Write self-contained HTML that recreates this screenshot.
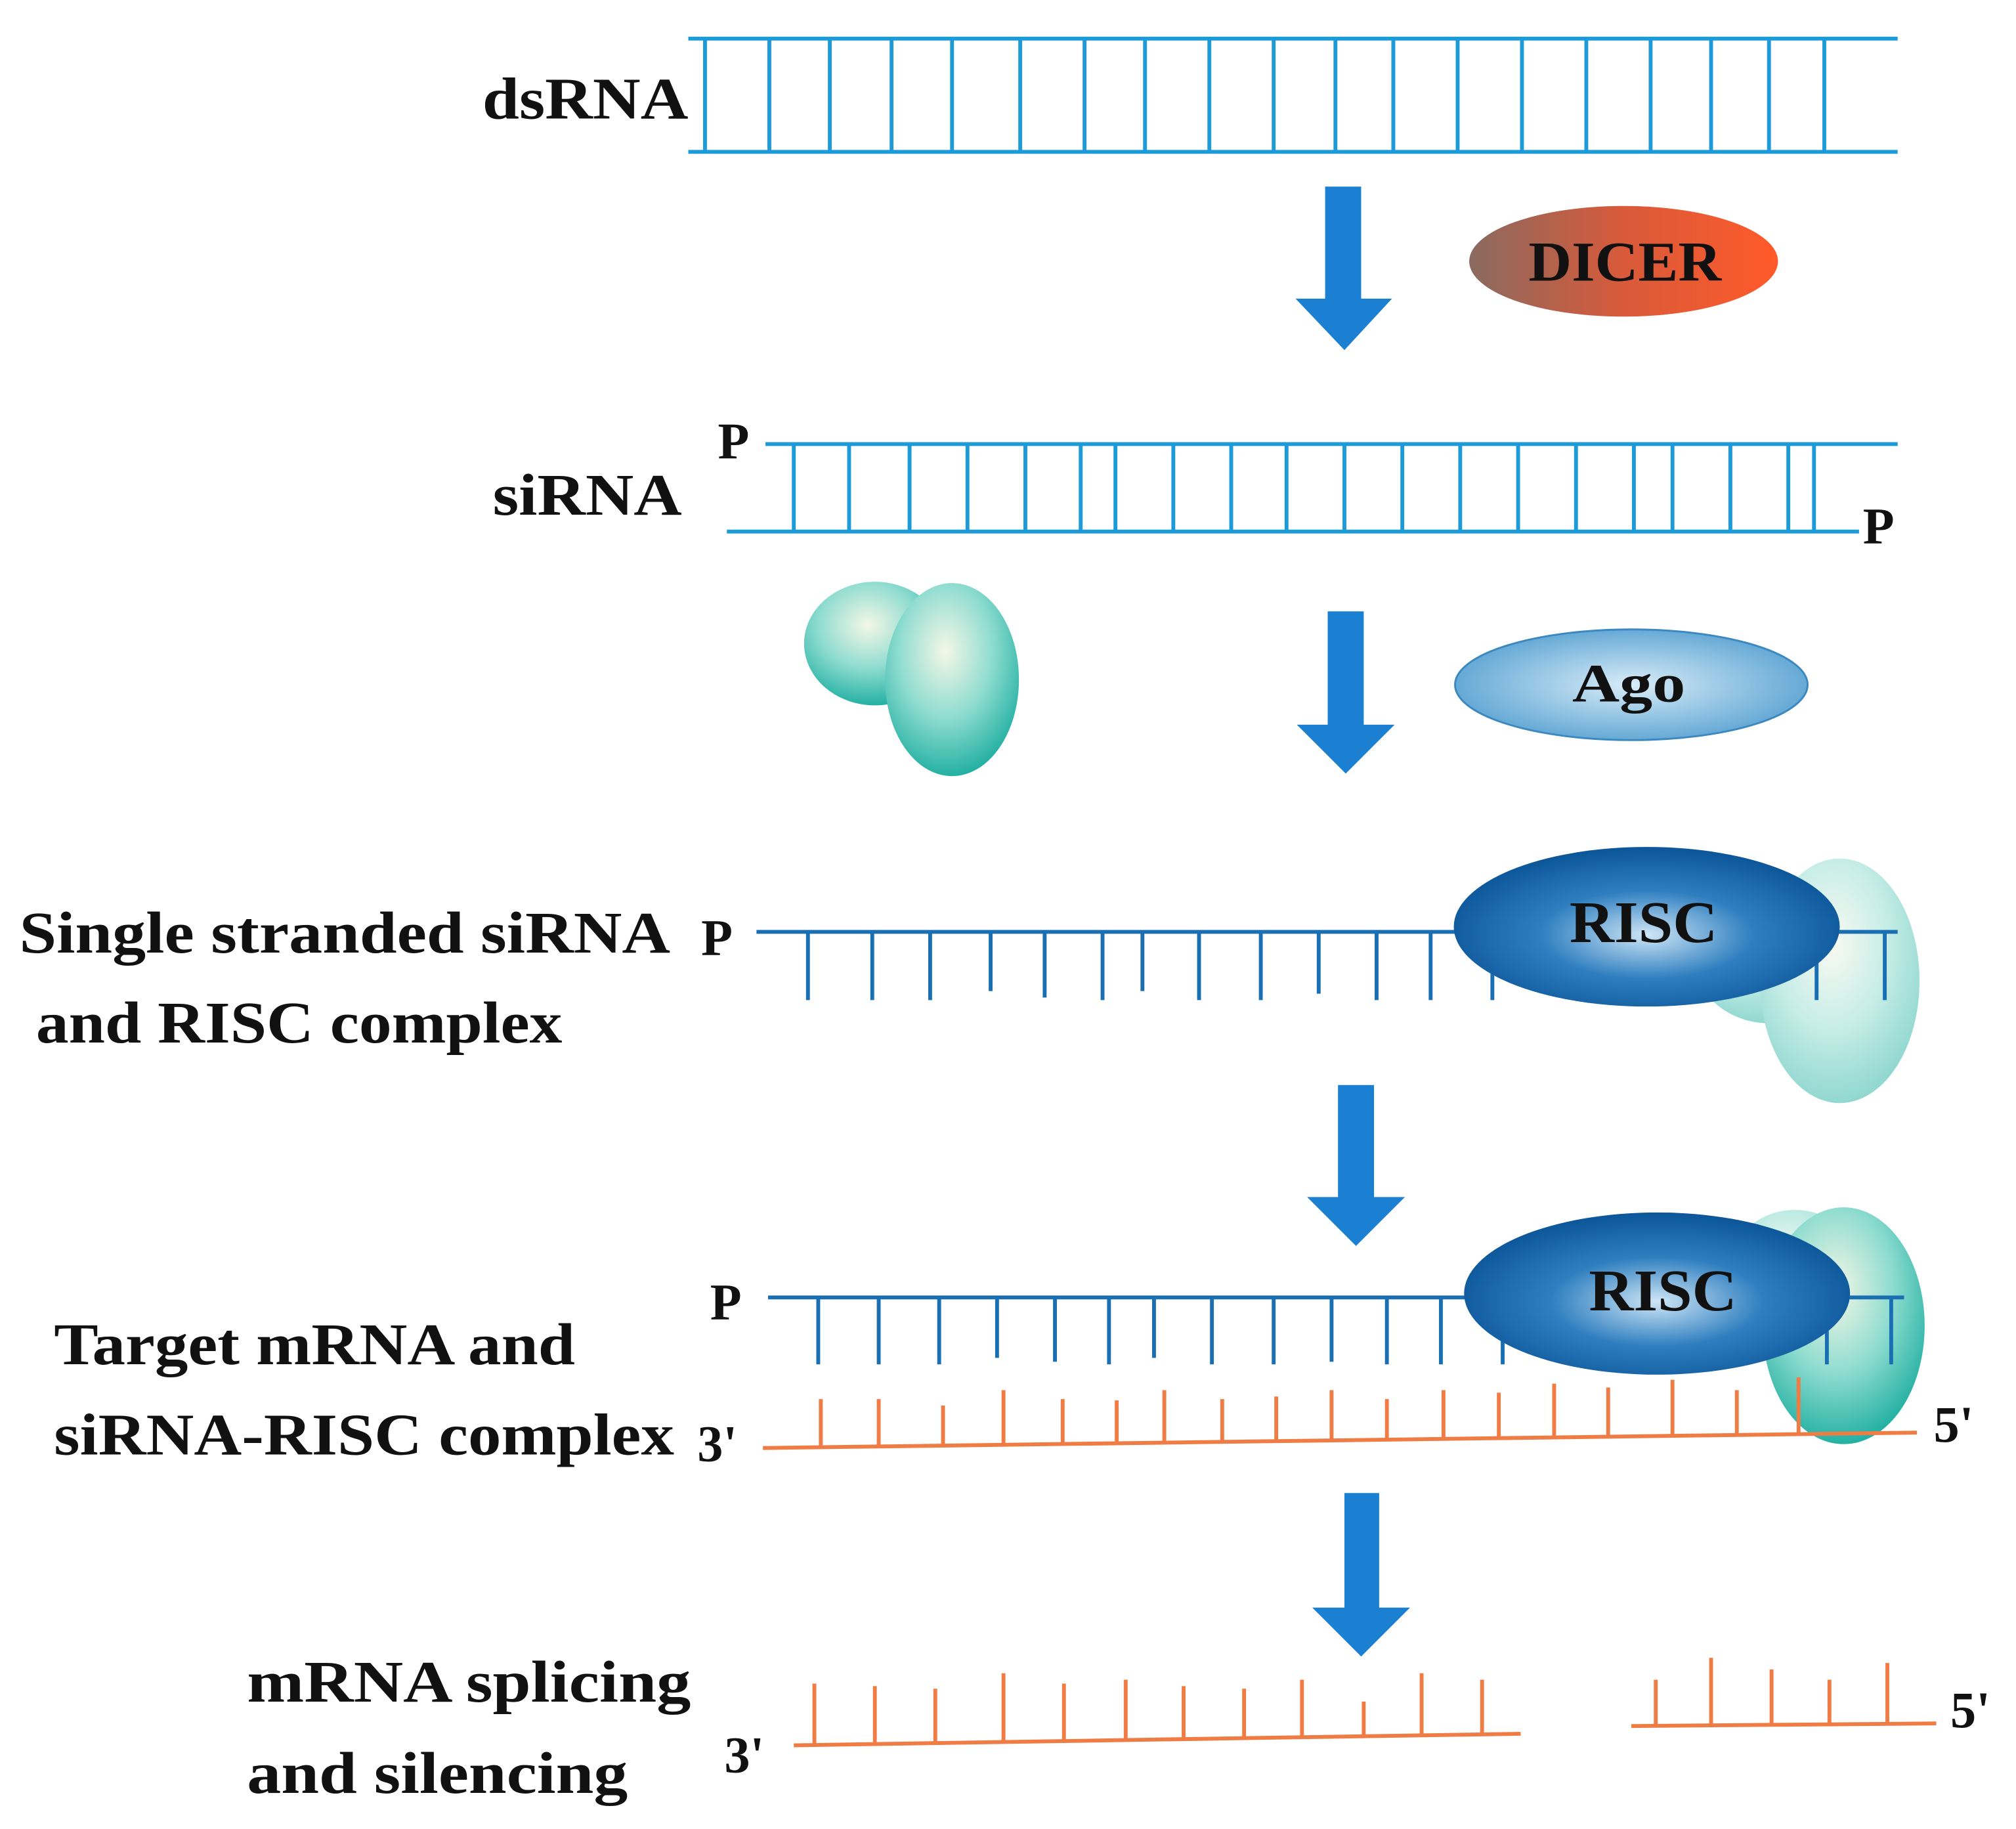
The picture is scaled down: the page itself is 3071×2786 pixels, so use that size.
<!DOCTYPE html>
<html><head><meta charset="utf-8"><style>
html,body{margin:0;padding:0;background:#fff;}
svg{display:block;}
text{font-family:"Liberation Serif",serif;font-weight:bold;fill:#111;}
</style></head><body>
<svg width="3071" height="2786" viewBox="0 0 1567 1421" preserveAspectRatio="none" xmlns="http://www.w3.org/2000/svg">
<defs>
<linearGradient id="dicer" x1="0" x2="1" y1="0" y2="0"><stop offset="0" stop-color="#8a6a60"/><stop offset="0.5" stop-color="#d85a3a"/><stop offset="1" stop-color="#ff5a2a"/></linearGradient>
<radialGradient id="ago" cx="0.5" cy="0.5" r="0.6"><stop offset="0" stop-color="#d8ecf8"/><stop offset="1" stop-color="#4f9ccf"/></radialGradient>
<radialGradient id="risc" cx="0.5" cy="0.55" r="0.55"><stop offset="0" stop-color="#cfe6f6"/><stop offset="0.5" stop-color="#2f7fc0"/><stop offset="1" stop-color="#0b5598"/></radialGradient>
<radialGradient id="teal" cx="0.45" cy="0.35" r="0.7"><stop offset="0" stop-color="#f4f7e6"/><stop offset="0.5" stop-color="#8fdcd0"/><stop offset="1" stop-color="#13aa9c"/></radialGradient>
</defs>

<!-- dsRNA -->
<text x="375" y="92" font-size="46" textLength="160" lengthAdjust="spacingAndGlyphs">dsRNA</text>
<g stroke="#1d9ad8" stroke-width="3" fill="none">
<line x1="535" y1="30" x2="1475" y2="30"/><line x1="535" y1="118" x2="1475" y2="118"/>
<path d="M548 30V118M598 30V118M645 30V118M693 30V118M740 30V118M793 30V118M843 30V118M890 30V118M940 30V118M990 30V118M1038 30V118M1083 30V118M1133 30V118M1183 30V118M1233 30V118M1283 30V118M1330 30V118M1375 30V118M1418 30V118"/>
</g>

<!-- arrow 1 -->
<path d="M1030 145H1058V232H1082L1045 272L1007 232H1030Z" fill="#1b80d2"/>
<ellipse cx="1262" cy="203" rx="120" ry="43" fill="url(#dicer)"/>
<text x="1188" y="218" font-size="44" textLength="150" lengthAdjust="spacingAndGlyphs">DICER</text>

<!-- siRNA -->
<text x="383" y="400" font-size="46" textLength="147" lengthAdjust="spacingAndGlyphs">siRNA</text>
<text x="558" y="356" font-size="40">P</text>
<text x="1448" y="422" font-size="40">P</text>
<g stroke="#1d9ad8" stroke-width="3" fill="none">
<line x1="595" y1="345" x2="1475" y2="345"/><line x1="565" y1="413" x2="1445" y2="413"/>
<path d="M617 345V413M660 345V413M707 345V413M752 345V413M797 345V413M840 345V413M867 345V413M912 345V413M957 345V413M1000 345V413M1045 345V413M1090 345V413M1135 345V413M1180 345V413M1225 345V413M1270 345V413M1300 345V413M1345 345V413M1390 345V413M1410 345V413"/>
</g>

<!-- teal pair -->
<ellipse cx="680" cy="500" rx="55" ry="48" fill="url(#teal)"/>
<ellipse cx="740" cy="528" rx="52" ry="75" fill="url(#teal)"/>

<!-- arrow 2 -->
<path d="M1032 475H1060V563H1084L1046 601L1008 563H1032Z" fill="#1b80d2"/>
<ellipse cx="1268" cy="532" rx="137" ry="43" fill="url(#ago)" stroke="#3c88c0" stroke-width="1.5"/>
<text x="1222" y="545" font-size="42" textLength="88" lengthAdjust="spacingAndGlyphs">Ago</text>

<!-- single stranded -->
<text x="15" y="740" font-size="46" textLength="506" lengthAdjust="spacingAndGlyphs">Single stranded siRNA</text>
<text x="28" y="810" font-size="46" textLength="409" lengthAdjust="spacingAndGlyphs">and RISC complex</text>
<text x="545" y="742" font-size="40">P</text>
<g opacity="0.5">
<ellipse cx="1375" cy="740" rx="60" ry="55" fill="url(#teal)"/>
<ellipse cx="1430" cy="762" rx="62" ry="95" fill="url(#teal)"/>
</g>
<g stroke="#1a6fb2" stroke-width="3" fill="none">
<line x1="588" y1="724" x2="1475" y2="724"/>
<path d="M628 724V777M678 724V777M723 724V777M770 724V770M812 724V775M857 724V777M888 724V770M932 724V777M980 724V777M1025 724V772M1070 724V777M1112 724V777M1160 724V777M1412 724V777M1465 724V777"/>
</g>
<ellipse cx="1280" cy="720" rx="150" ry="62" fill="url(#risc)"/>
<text x="1220" y="732" font-size="46" textLength="115" lengthAdjust="spacingAndGlyphs">RISC</text>

<!-- arrow 3 -->
<path d="M1040 843H1068V930H1092L1054 968L1016 930H1040Z" fill="#1b80d2"/>

<!-- target mRNA -->
<text x="42" y="1060" font-size="46" textLength="405" lengthAdjust="spacingAndGlyphs">Target mRNA and</text>
<text x="42" y="1130" font-size="46" textLength="482" lengthAdjust="spacingAndGlyphs">siRNA-RISC complex</text>
<text x="542" y="1135" font-size="40">3'</text>
<text x="552" y="1025" font-size="40">P</text>
<ellipse cx="1395" cy="995" rx="55" ry="55" fill="url(#teal)" opacity="0.6"/>
<ellipse cx="1433" cy="1030" rx="63" ry="92" fill="url(#teal)"/>
<g stroke="#1a6fb2" stroke-width="3" fill="none">
<line x1="597" y1="1008" x2="1480" y2="1008"/>
<path d="M636 1008V1060M683 1008V1060M730 1008V1060M775 1008V1055M820 1008V1058M862 1008V1060M897 1008V1055M942 1008V1060M990 1008V1060M1035 1008V1058M1078 1008V1060M1120 1008V1060M1168 1008V1060M1420 1008V1060M1470 1008V1060"/>
</g>
<ellipse cx="1288" cy="1005" rx="150" ry="63" fill="url(#risc)"/>
<text x="1235" y="1018" font-size="46" textLength="115" lengthAdjust="spacingAndGlyphs">RISC</text>
<g stroke="#f07c45" stroke-width="3" fill="none">
<line x1="593" y1="1125" x2="1490" y2="1113"/>
<path d="M638 1124V1087M683 1124V1087M733 1123V1092M780 1122V1080M826 1122V1087M868 1121V1088M905 1121V1080M950 1120V1087M992 1120V1085M1035 1119V1080M1078 1119V1087M1122 1118V1080M1165 1117V1082M1208 1117V1075M1250 1116V1078M1300 1116V1072M1350 1115V1080M1398 1114V1070"/>
</g>
<text x="1503" y="1120" font-size="40">5'</text>

<!-- arrow 4 -->
<path d="M1045 1160H1072V1249H1096L1058 1287L1020 1249H1045Z" fill="#1b80d2"/>

<!-- splicing -->
<text x="192" y="1322" font-size="46" textLength="345" lengthAdjust="spacingAndGlyphs">mRNA splicing</text>
<text x="192" y="1393" font-size="46" textLength="296" lengthAdjust="spacingAndGlyphs">and silencing</text>
<text x="563" y="1377" font-size="40">3'</text>
<g stroke="#f07c45" stroke-width="3" fill="none">
<line x1="617" y1="1356" x2="1182" y2="1347"/>
<path d="M633 1355V1308M680 1355V1310M727 1354V1312M780 1353V1300M827 1352V1308M875 1352V1305M920 1351V1310M967 1350V1312M1012 1350V1305M1060 1349V1322M1105 1348V1300M1152 1348V1305"/>
<line x1="1268" y1="1341" x2="1505" y2="1339"/>
<path d="M1287 1341V1305M1330 1340V1288M1377 1340V1297M1422 1340V1305M1467 1339V1292"/>
</g>
<text x="1516" y="1342" font-size="40">5'</text>
</svg>
</body></html>
